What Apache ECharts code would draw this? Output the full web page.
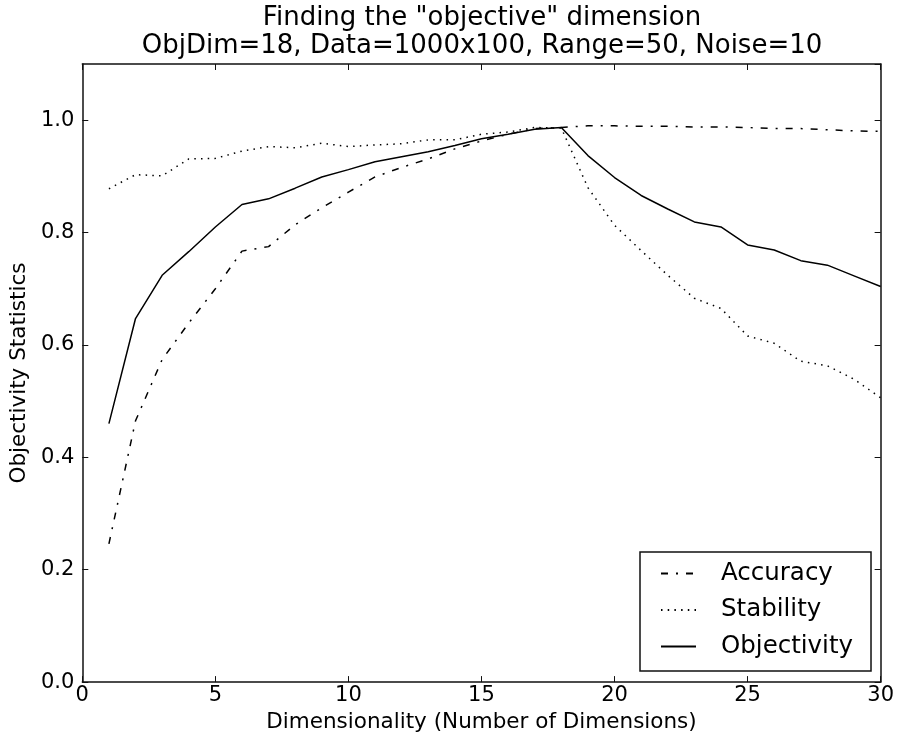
<!DOCTYPE html>
<html>
<head>
<meta charset="utf-8">
<script src="https://cdn.jsdelivr.net/npm/echarts@6/dist/echarts.min.js"></script>
<style>html,body{margin:0;padding:0;background:#fff}#c{width:897px;height:738px}</style>
</head>
<body>
<div id="c"></div>
<script>
const dims = [1,2,3,4,5,6,7,8,9,10,11,12,13,14,15,16,17,18,19,20,21,22,23,24,25,26,27,28,29,30];
const accuracy = [0.246,0.465,0.574,0.639,0.700,0.767,0.775,0.814,0.844,0.872,0.899,0.916,0.931,0.949,0.963,0.975,0.985,0.987,0.990,0.990,0.989,0.989,0.988,0.988,0.987,0.985,0.985,0.983,0.981,0.980];
const stability = [0.878,0.903,0.901,0.931,0.932,0.945,0.953,0.951,0.959,0.953,0.956,0.958,0.965,0.965,0.975,0.979,0.987,0.986,0.880,0.813,0.768,0.724,0.683,0.665,0.616,0.603,0.571,0.563,0.539,0.506];
const objectivity = [0.460,0.647,0.724,0.766,0.810,0.850,0.860,0.879,0.899,0.912,0.926,0.935,0.944,0.955,0.967,0.975,0.984,0.987,0.937,0.898,0.866,0.842,0.819,0.810,0.778,0.769,0.750,0.742,0.723,0.704];
const seriesNames = ['Accuracy','Stability','Objectivity'];
const titleText = 'Finding the "objective" dimension\nObjDim=18, Data=1000x100, Range=50, Noise=10';

const font = 'DejaVu Sans';
const chart = echarts.init(document.getElementById('c'), null, {renderer:'canvas'});
const pair = v => dims.map((d,i)=>[d,v[i]]);
const axisLine = {show:true, onZero:false, lineStyle:{color:'#111', width:1.5}};
const tick = {show:true, inside:true, length:6, lineStyle:{color:'#111', width:1}};
chart.setOption({
  animation:false,
  backgroundColor:'#fff',
  title:{text:titleText, left:482, top:4, padding:0, textAlign:'center',
    textStyle:{fontFamily:font, fontSize:26, fontWeight:'normal', color:'#000', lineHeight:28}},
  grid:{left:81, right:15, top:64, bottom:52},
  legend:{
    orient:'vertical', left:640, top:552,
    backgroundColor:'#fff', borderColor:'#111', borderWidth:1.5,
    padding:[9,18,12,20], itemGap:11.5, itemWidth:35, itemHeight:25,
    itemStyle:{color:'rgba(0,0,0,0)', opacity:0, borderWidth:0},
    textStyle:{fontFamily:font, fontSize:24.5, color:'#000', lineHeight:25, padding:[0,0,0,20]},
    data:seriesNames
  },
  xAxis:[
    {type:'value', min:0, max:30, interval:5, axisLine:axisLine, axisTick:tick, splitLine:{show:false},
     axisLabel:{fontFamily:font, fontSize:21, color:'#000', margin:3},
     name:'Dimensionality (Number of Dimensions)', nameLocation:'middle', nameGap:23,
     nameTextStyle:{fontFamily:font, fontSize:21.5, color:'#000'}},
    {type:'value', position:'top', min:0, max:30, interval:5, axisLine:axisLine, axisTick:tick, splitLine:{show:false}, axisLabel:{show:false}}
  ],
  yAxis:[
    {type:'value', min:0, max:1.1, interval:0.2, axisLine:axisLine, axisTick:tick, splitLine:{show:false},
     axisLabel:{fontFamily:font, fontSize:21, color:'#000', margin:8, showMaxLabel:false, formatter:v=>v.toFixed(1)},
     name:'Objectivity Statistics', nameLocation:'middle', nameGap:50,
     nameTextStyle:{fontFamily:font, fontSize:21.5, color:'#000'}},
    {type:'value', position:'right', min:0, max:1.1, interval:0.2, axisLine:axisLine, axisTick:tick, splitLine:{show:false}, axisLabel:{show:false}}
  ],
  series:[
    {name:seriesNames[0], type:'line', data:pair(accuracy), showSymbol:false, symbol:'none',
     lineStyle:{color:'#000', width:1.5, type:[7,8,2,8]}, itemStyle:{color:'#000'}},
    {name:seriesNames[1], type:'line', data:pair(stability), showSymbol:false, symbol:'none',
     lineStyle:{color:'#000', width:1.5, type:[1.5,5.2]}, itemStyle:{color:'#000'}},
    {name:seriesNames[2], type:'line', data:pair(objectivity), showSymbol:false, symbol:'none',
     lineStyle:{color:'#000', width:1.5, type:'solid'}, itemStyle:{color:'#000'}}
  ]
});
</script>
</body>
</html>
